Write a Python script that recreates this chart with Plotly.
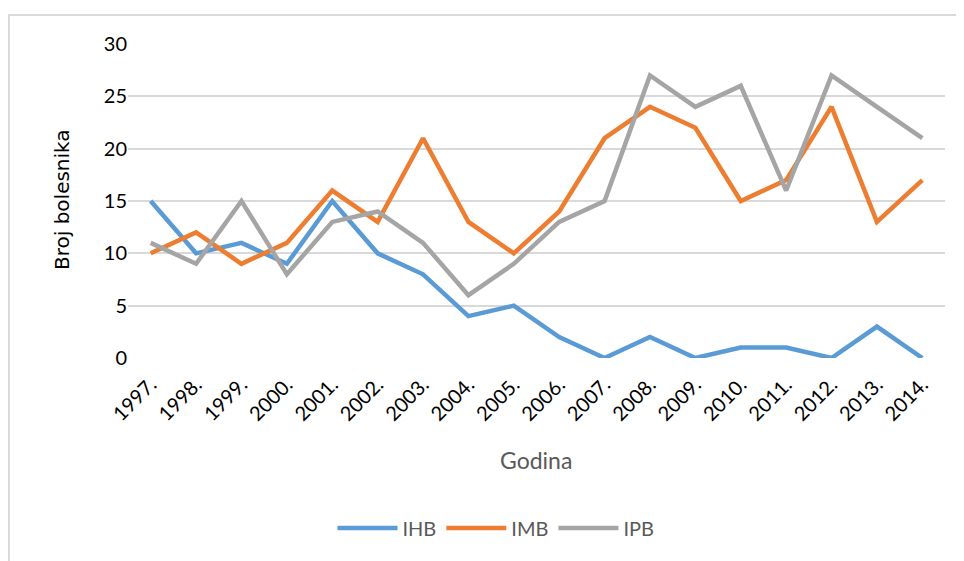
import plotly.graph_objects as go

years = ["1997.", "1998.", "1999.", "2000.", "2001.", "2002.", "2003.", "2004.", "2005.",
         "2006.", "2007.", "2008.", "2009.", "2010.", "2011.", "2012.", "2013.", "2014."]
ihb = [15, 10, 11, 9, 15, 10, 8, 4, 5, 2, 0, 2, 0, 1, 1, 0, 3, 0]
imb = [10, 12, 9, 11, 16, 13, 21, 13, 10, 14, 21, 24, 22, 15, 17, 24, 13, 17]
ipb = [11, 9, 15, 8, 13, 14, 11, 6, 9, 13, 15, 27, 24, 26, 16, 27, 24, 21]

series = [("IHB", ihb, "#5B9BD5"), ("IMB", imb, "#ED7D31"), ("IPB", ipb, "#A5A5A5")]

fig = go.Figure()
for name, vals, col in series:
    fig.add_trace(go.Scatter(x=years, y=vals, name=name, mode="lines",
                             line=dict(color=col, width=4.5)))

OFF = 8  # page body margin
W, H = 964 - OFF, 561 - OFF
L, T = 128 - OFF, 44 - OFF
PR, PB = 945 - OFF, 358 - OFF
R, B = W - PR, H - PB
pw, ph = PR - L, PB - T


def px(x):
    return (x - OFF - L) / pw


def py(y):
    return (PB - (y - OFF)) / ph


fig.update_layout(
    width=W, height=H,
    margin=dict(l=L, r=R, t=T, b=B),
    paper_bgcolor="white", plot_bgcolor="white",
    font=dict(family="Lato, Carlito, sans-serif", size=20, color="#000000"),
    showlegend=True,
    legend=dict(orientation="h", x=px(496), xanchor="center",
                y=py(528), yanchor="middle",
                font=dict(size=20, color="#595959"), itemwidth=60),
    xaxis=dict(type="category", range=[-0.5, 17.5], tickangle=-45,
               showgrid=False, showline=False, ticks="", zeroline=False,
               ticklabelstandoff=10,
               tickfont=dict(size=20, color="#000000")),
    yaxis=dict(range=[0, 30], dtick=5, showgrid=True, gridcolor="#D9D9D9", gridwidth=2,
               zeroline=False, showline=False, ticks="", ticklen=0,
               tickfont=dict(size=20, color="#000000")),
    annotations=[
        dict(text="Godina", xref="paper", yref="paper", x=px(536), y=py(460),
             xanchor="center", yanchor="middle", showarrow=False,
             font=dict(size=23, color="#595959")),
        dict(text="Broj bolesnika", xref="paper", yref="paper", x=px(62), y=py(200),
             xanchor="center", yanchor="middle", showarrow=False, textangle=-90,
             font=dict(family="DejaVu Sans, sans-serif", size=20, color="#000000")),
    ],
    shapes=[
        dict(type="rect", xref="paper", yref="paper",
             x0=px(9), x1=px(990),
             y0=py(600), y1=py(15),
             line=dict(color="#D9D9D9", width=2), fillcolor="rgba(0,0,0,0)", layer="below"),
    ],
)

fig.write_html("out.html")
